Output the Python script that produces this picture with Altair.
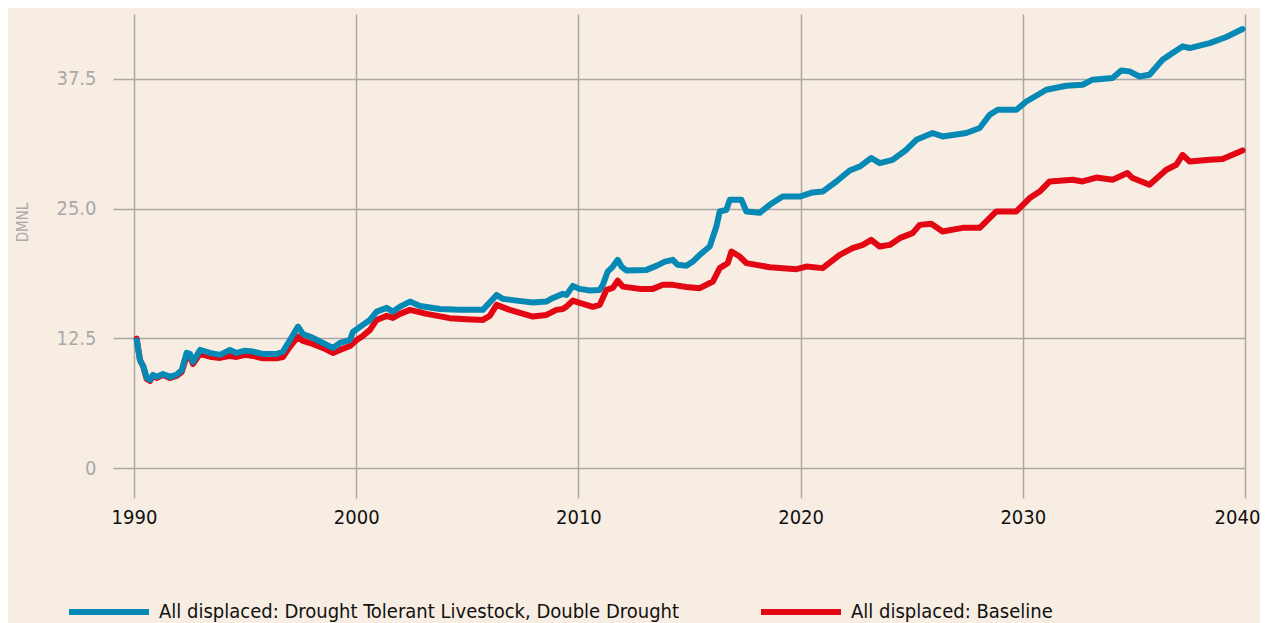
import altair as alt
import pandas as pd

S_BLUE = "All displaced: Drought Tolerant Livestock, Double Drought"
S_RED = "All displaced: Baseline"

blue_year = [1990.12, 1990.27, 1990.42, 1990.57, 1990.72, 1990.85, 1991.02, 1991.30, 1991.62, 1991.92,
             1992.15, 1992.37, 1992.52, 1992.65, 1992.97, 1993.42, 1993.87, 1994.32, 1994.62, 1994.99,
             1995.35, 1995.80, 1996.42, 1996.70, 1997.02, 1997.38, 1997.60, 1998.05, 1998.50, 1998.95,
             1999.27, 1999.72, 1999.85, 2000.30, 2000.62, 2000.92, 2001.37, 2001.65, 2001.97, 2002.42,
             2002.87, 2003.77, 2004.66, 2005.70, 2006.32, 2006.60, 2007.22, 2007.95, 2008.56, 2008.85,
             2009.30, 2009.46, 2009.75, 2010.06, 2010.51, 2010.96, 2011.10, 2011.32, 2011.55, 2011.77,
             2011.94, 2012.16, 2013.06, 2013.51, 2013.89, 2014.25, 2014.47, 2014.86, 2015.15, 2015.46,
             2015.91, 2016.21, 2016.36, 2016.66, 2016.81, 2017.34, 2017.56, 2018.16, 2018.61, 2019.19,
             2019.96, 2020.54, 2020.99, 2021.61, 2022.21, 2022.66, 2023.18, 2023.56, 2024.14, 2024.76,
             2025.21, 2025.94, 2026.39, 2027.46, 2028.06, 2028.51, 2028.87, 2029.71, 2030.16, 2031.06,
             2031.96, 2032.69, 2033.14, 2034.04, 2034.43, 2034.80, 2035.25, 2035.70, 2036.29, 2036.74,
             2037.19, 2037.51, 2038.41, 2039.16, 2039.89]
blue_val = [12.30, 10.40, 9.80, 8.70, 8.50, 8.97, 8.78, 9.06, 8.78, 9.00,
            9.45, 11.09, 10.99, 10.22, 11.38, 11.09, 10.90, 11.38, 11.09, 11.31,
            11.22, 10.99, 10.99, 11.22, 12.34, 13.63, 12.92, 12.54, 12.05, 11.57,
            12.05, 12.34, 13.11, 13.79, 14.27, 15.07, 15.43, 15.07, 15.55, 16.04,
            15.62, 15.33, 15.24, 15.24, 16.68, 16.30, 16.13, 15.94, 16.04, 16.39,
            16.78, 16.68, 17.55, 17.26, 17.10, 17.16, 17.65, 18.93, 19.41, 20.06,
            19.41, 19.03, 19.09, 19.48, 19.89, 20.06, 19.58, 19.48, 19.89, 20.54,
            21.34, 23.27, 24.72, 24.88, 25.84, 25.84, 24.72, 24.59, 25.36, 26.16,
            26.16, 26.55, 26.64, 27.61, 28.67, 29.05, 29.87, 29.38, 29.70, 30.67,
            31.63, 32.28, 31.95, 32.28, 32.76, 34.04, 34.52, 34.52, 35.32, 36.45,
            36.84, 36.93, 37.42, 37.58, 38.31, 38.22, 37.73, 37.90, 39.34, 39.99,
            40.63, 40.47, 40.95, 41.53, 42.30]

red_year = [1990.12, 1990.27, 1990.42, 1990.57, 1990.72, 1990.85, 1991.02, 1991.30, 1991.62, 1991.92,
            1992.15, 1992.37, 1992.52, 1992.65, 1992.97, 1993.42, 1993.87, 1994.32, 1994.62, 1994.99,
            1995.35, 1995.80, 1996.42, 1996.70, 1997.02, 1997.38, 1997.60, 1998.05, 1998.50, 1998.95,
            1999.27, 1999.72, 2000.02, 2000.30, 2000.62, 2000.92, 2001.37, 2001.65, 2001.97, 2002.42,
            2003.17, 2004.21, 2004.97, 2005.70, 2006.01, 2006.32, 2006.91, 2007.95, 2008.56, 2009.01,
            2009.30, 2009.46, 2009.75, 2010.06, 2010.65, 2010.96, 2011.26, 2011.55, 2011.77, 2012.00,
            2012.76, 2013.35, 2013.80, 2014.25, 2014.86, 2015.46, 2016.05, 2016.36, 2016.72, 2016.89,
            2017.26, 2017.56, 2018.61, 2019.81, 2020.26, 2020.99, 2021.76, 2022.34, 2022.80, 2023.18,
            2023.56, 2024.01, 2024.46, 2025.04, 2025.36, 2025.88, 2026.39, 2027.29, 2028.06, 2028.81,
            2029.71, 2030.31, 2030.76, 2031.21, 2032.24, 2032.69, 2033.31, 2034.04, 2034.71, 2034.94,
            2035.70, 2036.46, 2036.91, 2037.19, 2037.51, 2038.41, 2038.99, 2039.89]
red_val = [12.47, 10.41, 9.77, 8.58, 8.39, 8.87, 8.68, 8.97, 8.68, 8.87,
           9.26, 10.80, 10.70, 10.03, 11.00, 10.73, 10.61, 10.80, 10.70, 10.90,
           10.80, 10.58, 10.58, 10.70, 11.70, 12.66, 12.25, 11.96, 11.57, 11.09,
           11.38, 11.76, 12.34, 12.73, 13.31, 14.27, 14.66, 14.46, 14.85, 15.24,
           14.85, 14.44, 14.34, 14.27, 14.66, 15.72, 15.24, 14.59, 14.75, 15.24,
           15.33, 15.55, 16.13, 15.91, 15.53, 15.72, 17.16, 17.36, 18.06, 17.48,
           17.26, 17.26, 17.65, 17.65, 17.45, 17.33, 17.97, 19.26, 19.74, 20.86,
           20.38, 19.74, 19.35, 19.16, 19.41, 19.26, 20.54, 21.19, 21.50, 21.99,
           21.34, 21.50, 22.15, 22.63, 23.43, 23.53, 22.79, 23.14, 23.14, 24.72,
           24.72, 26.01, 26.64, 27.61, 27.77, 27.61, 27.99, 27.77, 28.42, 27.94,
           27.29, 28.74, 29.22, 30.18, 29.54, 29.70, 29.77, 30.60]

x_ticks = [1990, 2000, 2010, 2020, 2030, 2040]
y_ticks = [0, 12.5, 25, 37.5]

BLUE = "#0789b6"
RED = "#e30613"
BG = "#f7ede2"
GRID = "#aaa8a4"
FONT = "DejaVu Sans Condensed, Liberation Sans, sans-serif"

df_blue = pd.DataFrame({"year": blue_year, "value": blue_val, "series": S_BLUE})
df_red = pd.DataFrame({"year": red_year, "value": red_val, "series": S_RED})

color = alt.Color(
    "series:N",
    scale=alt.Scale(domain=[S_BLUE, S_RED], range=[BLUE, RED]),
    legend=alt.Legend(
        title=None,
        orient="none",
        legendX=-68,
        legendY=555,
        direction="horizontal",
        columns=2,
        symbolType="stroke",
        symbolSize=6400,
        symbolStrokeWidth=6,
        labelFontSize=20,
        labelFont=FONT,
        labelColor="#111111",
        labelOffset=7,
        columnPadding=69,
        labelLimit=0,
        padding=0,
    ),
)

x = alt.X(
    "year:Q",
    scale=alt.Scale(domain=[1990, 2040], nice=False, zero=False),
    axis=alt.Axis(
        values=x_ticks, format="d", title=None, grid=True, domain=False,
        tickSize=30, tickColor=GRID, tickWidth=1.5, gridColor=GRID, gridWidth=1.5,
        labelColor="#111111", labelFontSize=20, labelFont=FONT, labelPadding=9,
        labelFlush=False,
        labelOffset={"condition": {"test": "datum.value == 2040", "value": -8}, "value": 0},
    ),
)
y = alt.Y(
    "value:Q",
    scale=alt.Scale(domain=[0, 43.75], nice=False),
    axis=alt.Axis(
        values=y_ticks, title="DMNL", grid=True, domain=False,
        labelExpr="datum.value == 0 ? '0' : format(datum.value, '.1f')",
        tickSize=21, tickColor=GRID, tickWidth=1.5, gridColor=GRID, gridWidth=1.5,
        labelColor="#a9a9a9", labelFontSize=20, labelFont=FONT, labelPadding=17,
        labelFlush=False,
        titleColor="#a9a9a9", titleFontSize=15, titleFont=FONT, titleFontWeight="normal",
        titleX=-112, titleY=208, titleAngle=270, titleAlign="center", titleBaseline="middle",
    ),
)

line_kw = dict(strokeWidth=6, strokeCap="round", strokeJoin="round")
red_line = alt.Chart(df_red).mark_line(**line_kw).encode(x=x, y=y, color=color)
blue_line = alt.Chart(df_blue).mark_line(**line_kw).encode(x=x, y=y, color=color)

chart = alt.layer(red_line, blue_line).properties(
    width=1111,
    height=454,
    autosize=alt.AutoSizeParams(type="none"),
    padding={"left": 126, "top": 6, "right": 15, "bottom": 155},
    background=BG,
).configure_view(stroke=None)

chart.save("out.html", embed_options={"renderer": "svg", "actions": False})
